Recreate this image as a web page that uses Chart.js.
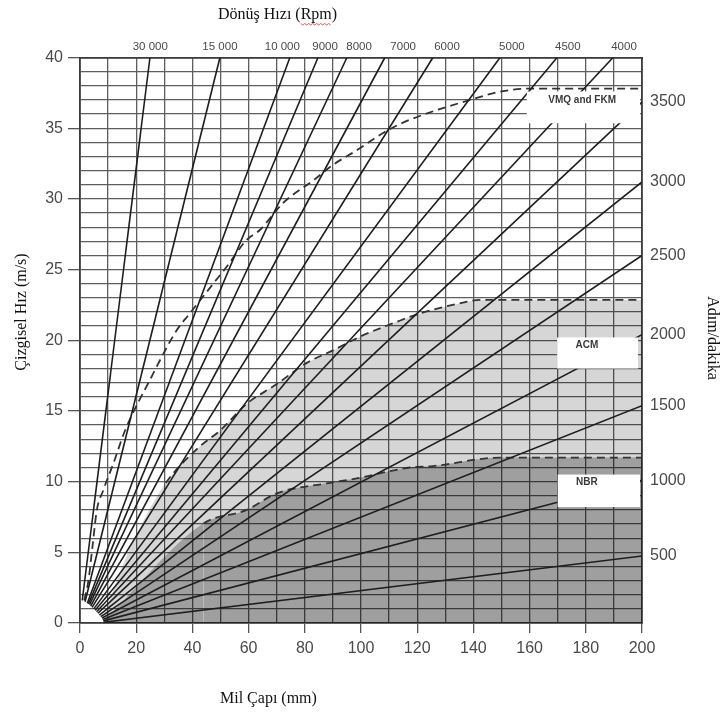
<!DOCTYPE html>
<html><head><meta charset="utf-8">
<script src="https://cdn.jsdelivr.net/npm/chart.js@4/dist/chart.umd.min.js"></script>
<style>html,body{margin:0;padding:0;background:#fff}canvas{display:block}</style>
</head><body>
<canvas id="c" width="723" height="718"></canvas>
<script>
// ---- data ----
// rpm lines that leave the chart through the top edge (y = 40 m/s): x of the crossing (mm)
const rpmTop = [30000, 15000, 10000, 9000, 8000, 7000, 6000, 5000, 4500, 4000];
const topEndD = [24.9, 49.8, 74.7, 84.7, 95.0, 108.5, 125.6, 149.5, 169.8, 189.7];
// rpm lines that leave through the right edge (x = 200 mm): y of the crossing (m/s)
const rpmRight = [3500, 3000, 2500, 2000, 1500, 1000, 500];
const rightEndV = [36.85, 31.2, 26.0, 20.4, 15.37, 10.1, 4.74];
// start points of the 17 rpm lines (near the origin), same order: rpmTop then rpmRight
const startD = [0.8, 1.8, 2.6, 3.0, 3.4, 3.8, 4.3, 4.9, 5.4, 5.9, 6.4, 6.9, 7.4, 7.8, 8.1, 8.3, 8.4];
const startV = [1.6, 1.5, 1.4, 1.35, 1.3, 1.2, 1.1, 1.0, 0.9, 0.8, 0.7, 0.55, 0.45, 0.35, 0.25, 0.15, 0.05];
// top tick labels and their positions (mm)
const topTickLabels = ['30 000', '15 000', '10 000', '9000', '8000', '7000', '6000', '5000', '4500', '4000'];
const topTickPos = [25, 49.8, 72, 87.2, 99.3, 115, 130.6, 153.7, 173.6, 193.6];
// material limit curves
const vmqD = [1.5, 3, 4.5, 6, 8.3, 11.9, 16, 24.9, 34.4, 39.1, 47.4, 52.2, 59.3, 64, 72.2, 83, 90, 98.6, 105, 110, 117.4, 138.8, 150, 160, 200];
const vmqV = [1.6, 3, 5.5, 8, 9.4, 11.3, 13.6, 17.2, 20.7, 21.9, 24.0, 25.2, 27.1, 27.8, 29.7, 31.3, 32.4, 33.45, 34.3, 34.9, 35.6, 37.0, 37.6, 37.8, 37.8];
const acmD = [8.4, 15, 22, 30.5, 42.7, 49.8, 59.3, 70, 80.7, 90.2, 99.6, 112.7, 121, 135, 142.3, 200];
const acmV = [0.3, 4, 7, 9.9, 12.5, 13.6, 15.5, 16.9, 18.4, 19.3, 20.25, 21.3, 21.9, 22.6, 22.85, 22.85];
const nbrD = [8.4, 44, 59.3, 70, 87.8, 98.5, 117.4, 125.6, 149.5, 200];
const nbrV = [0.1, 7.05, 8.0, 9.17, 9.88, 10.23, 11.0, 11.1, 11.7, 11.7];
const materialNames = ['VMQ and FKM', 'ACM', 'NBR'];

// ---- annotation layout (label boxes, in data units) ----
const labelBoxes = [
  {text: materialNames[0], x0: 159, x1: 199.3, y0: 35.35, y1: 37.6, tx: 178.7, ty: 37.0},
  {text: materialNames[1], x0: 169.8, x1: 198.6, y0: 18.0, y1: 20.2, tx: 180.4, ty: 19.66},
  {text: materialNames[2], x0: 170, x1: 199.3, y0: 8.2, y1: 10.5, tx: 180.4, ty: 9.97}
];

const pts = (xs, ys) => xs.map((v, i) => ({x: v, y: ys[i]}));
const datasets = [];
rpmTop.forEach((r, i) => {
  datasets.push({label: String(r), data: [{x: startD[i], y: startV[i]}, {x: topEndD[i], y: 40}],
    borderColor: '#1e1e1e', borderWidth: 1.6, pointRadius: 0, fill: false});
});
rpmRight.forEach((r, j) => {
  const i = rpmTop.length + j;
  datasets.push({label: String(r), data: [{x: startD[i], y: startV[i]}, {x: 200, y: rightEndV[j]}],
    borderColor: '#1e1e1e', borderWidth: 1.6, pointRadius: 0, fill: false});
});
const dashStyle = {borderWidth: 1.8, borderDash: [8, 5], pointRadius: 0, cubicInterpolationMode: 'monotone'};
datasets.push(Object.assign({label: materialNames[0], data: pts(vmqD, vmqV), borderColor: '#333', fill: false}, dashStyle));
datasets.push(Object.assign({label: materialNames[2], data: pts(nbrD, nbrV), borderColor: '#333',
  backgroundColor: 'rgba(0,0,0,0.26)', fill: 'origin',
  segment: {borderColor: c => c.p0.parsed.x < 40 ? 'rgba(0,0,0,0)' : '#333'}}, dashStyle));
datasets.push(Object.assign({label: materialNames[1], data: pts(acmD, acmV), borderColor: '#333',
  backgroundColor: 'rgba(0,0,0,0.16)', fill: 'origin',
  segment: {borderColor: c => c.p0.parsed.x < 28 ? 'rgba(0,0,0,0)' : '#333'}}, dashStyle));

const GRID = '#5e5e5e', BORDER = '#3c3c3c', TICKTXT = '#4a4a4a';
const decor = {
  id: 'decor',
  afterDatasetsDraw(chart) {
    const {ctx, scales: {x, y}} = chart;
    ctx.save();
    labelBoxes.forEach(b => {
      const l = x.getPixelForValue(b.x0), r = x.getPixelForValue(b.x1);
      const t = y.getPixelForValue(b.y1), bt = y.getPixelForValue(b.y0);
      ctx.fillStyle = '#fff';
      ctx.fillRect(l, t, r - l, bt - t);
      ctx.fillStyle = '#3a3a3a';
      ctx.font = 'bold 10px "Liberation Sans", Arial, sans-serif';
      ctx.textAlign = 'center'; ctx.textBaseline = 'middle';
      ctx.fillText(b.text, x.getPixelForValue(b.tx), y.getPixelForValue(b.ty));
    });
    ctx.restore();
  },
  afterDraw(chart) {
    const ctx = chart.ctx;
    ctx.save();
    ctx.fillStyle = '#111';
    ctx.font = '16px "Liberation Serif", "Times New Roman", serif';
    ctx.textBaseline = 'middle';
    ctx.textAlign = 'left';
    const t1 = 'Dönüş Hızı (Rpm)';
    ctx.fillText(t1, 218, 15);
    // spell-check squiggle under "Rpm"
    const w0 = ctx.measureText('Dönüş Hızı (').width, w1 = ctx.measureText('Rpm').width;
    ctx.strokeStyle = '#d03030'; ctx.lineWidth = 0.8; ctx.beginPath();
    for (let k = 0; k <= w1; k += 2) { const px = 218 + w0 + k; const py = 24 + ((k / 2) % 2 ? 1 : -0.5); k ? ctx.lineTo(px, py) : ctx.moveTo(px, py); }
    ctx.stroke();
    ctx.fillText('Mil Çapı (mm)', 220, 699);
    ctx.textAlign = 'center';
    ctx.save(); ctx.translate(22, 312); ctx.rotate(-Math.PI / 2); ctx.fillText('Çizgisel Hız (m/s)', 0, 0); ctx.restore();
    ctx.save(); ctx.translate(712, 338); ctx.rotate(Math.PI / 2); ctx.fillText('Adım/dakika', 0, 0); ctx.restore();
    ctx.restore();
  }
};

const tickFont = {family: '"Liberation Sans", Arial, sans-serif', size: 16};
new Chart(document.getElementById('c'), {
  type: 'line',
  data: {datasets},
  plugins: [decor],
  options: {
    responsive: false, animation: false, events: [],
    layout: {padding: 0},
    plugins: {legend: {display: false}, tooltip: {enabled: false}, title: {display: false}},
    scales: {
      x: {
        type: 'linear', position: 'bottom', min: 0, max: 200,
        afterFit: s => { s.height = 95; },
        ticks: {stepSize: 10, autoSkip: false, maxRotation: 0, padding: 6, color: TICKTXT, font: tickFont,
          callback: v => (v % 20 === 0 ? String(v) : '')},
        grid: {color: GRID, lineWidth: 1.3, tickLength: 10,
          tickColor: c => (c.tick && c.tick.value % 20 === 0 ? '#555' : 'rgba(0,0,0,0)')},
        border: {color: BORDER, width: 1.8}
      },
      xTop: {
        type: 'linear', position: 'top', min: 0, max: 200,
        afterFit: s => { s.height = 57.5; },
        afterBuildTicks: s => { s.ticks = topTickPos.map(v => ({value: v})); },
        ticks: {autoSkip: false, maxRotation: 0, padding: 4, color: TICKTXT,
          font: {family: '"Liberation Sans", Arial, sans-serif', size: 11.5},
          callback: (v, i) => topTickLabels[i]},
        grid: {display: false, drawTicks: false},
        border: {color: BORDER, width: 1.8}
      },
      y: {
        type: 'linear', position: 'left', min: 0, max: 40,
        afterFit: s => { s.width = 80; },
        ticks: {stepSize: 1, autoSkip: false, padding: 5, color: TICKTXT, font: tickFont,
          callback: v => (v % 5 === 0 ? String(v) : '')},
        grid: {color: GRID, lineWidth: 1.3, tickLength: 12,
          tickColor: c => (c.tick && c.tick.value % 5 === 0 ? '#555' : 'rgba(0,0,0,0)')},
        border: {color: BORDER, width: 1.8}
      },
      yR: {
        type: 'linear', position: 'right', min: 0, max: 40,
        afterFit: s => { s.width = 81; },
        afterBuildTicks: s => { s.ticks = rightEndV.map(v => ({value: v})); },
        ticks: {autoSkip: false, padding: 8, color: TICKTXT, font: tickFont,
          callback: (v, i) => String(rpmRight[i])},
        grid: {display: false, drawTicks: false},
        border: {color: BORDER, width: 1.8}
      }
    }
  }
});
</script>
</body></html>
